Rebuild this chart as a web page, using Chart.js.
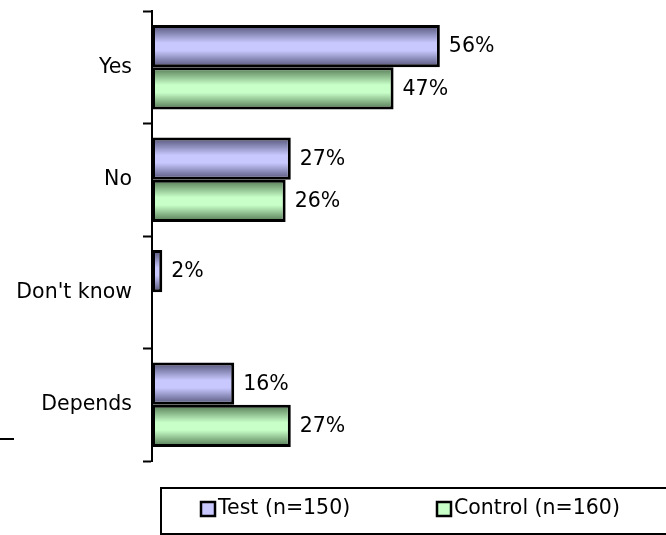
<!DOCTYPE html>
<html>
<head>
<meta charset="utf-8">
<script src="https://cdn.jsdelivr.net/npm/chart.js@4.4.0/dist/chart.umd.min.js"></script>
<style>
  html, body { margin: 0; padding: 0; background: #fff; }
  #wrap { width: 666px; height: 535px; position: relative; }
</style>
</head>
<body>
<div id="wrap"><canvas id="answersChart"></canvas></div>
<script>
// Дані
const categories = ['Yes', 'No', "Don't know", 'Depends'];
const seriesNames = ['Test (n=150)', 'Control (n=160)'];
const testValues = [56, 27, 2, 16];
const controlValues = [47, 26, null, 27];

const FONT = '"DejaVu Sans", Verdana, sans-serif';
const FONT_SIZE = 20.5;
const palette = [
    { dark: '#505075', light: '#c8c8ff' },
    { dark: '#507550', light: '#c8ffc8' }
];

// вертикальний градієнт для кожного бару (темні краї, світла середина)
function barGradient(ctx) {
    const chart = ctx.chart;
    const y = chart.scales && chart.scales.y;
    const col = palette[ctx.datasetIndex];
    if (!chart.chartArea || !y) return col.light;
    const band = (y.bottom - y.top) / categories.length;
    const h = band * 0.75 / 2;
    const yc = y.getPixelForValue(ctx.dataIndex);
    const top = ctx.datasetIndex === 0 ? yc - h : yc;
    const g = chart.ctx.createLinearGradient(0, top, 0, top + h);
    g.addColorStop(0, col.dark);
    g.addColorStop(0.42, col.light);
    g.addColorStop(0.6, col.light);
    g.addColorStop(1, col.dark);
    return g;
}

// підписи значень і легенда в рамці
const extras = {
    id: 'extras',
    afterDatasetsDraw(chart) {
        const c = chart.ctx;
        c.save();
        c.font = FONT_SIZE + 'px ' + FONT;
        c.fillStyle = '#000';
        c.textBaseline = 'middle';
        c.textAlign = 'left';
        chart.data.datasets.forEach((ds, di) => {
            chart.getDatasetMeta(di).data.forEach((bar, i) => {
                if (ds.data[i] == null) return;
                c.fillText(ds.data[i] + '%', bar.x + 9, bar.y + 1);
            });
        });
        c.restore();
    },
    afterDraw(chart) {
        const c = chart.ctx;
        c.save();
        // рамка легенди
        c.strokeStyle = '#000';
        c.lineWidth = 2;
        c.strokeRect(161, 488, 520, 46);
        // коротка риска зліва
        c.beginPath();
        c.moveTo(0, 439);
        c.lineTo(14, 439);
        c.stroke();

        const items = [200, 436];
        c.font = FONT_SIZE + 'px ' + FONT;
        c.textBaseline = 'middle';
        c.textAlign = 'left';
        chart.data.datasets.forEach((ds, di) => {
            const x = items[di], y = 501;
            c.fillStyle = palette[di].light;
            c.fillRect(x, y, 16, 16);
            c.lineWidth = 2.5;
            c.strokeRect(x + 1, y + 1, 14, 14);
            c.fillStyle = '#000';
            c.fillText(ds.label, x + 18, y + 8);
        });
        c.restore();
    }
};

new Chart(document.getElementById('answersChart'), {
    type: 'bar',
    data: {
        labels: categories,
        datasets: [
            { label: seriesNames[0], data: testValues, backgroundColor: barGradient },
            { label: seriesNames[1], data: controlValues, backgroundColor: barGradient }
        ]
    },
    options: {
        indexAxis: 'y',
        responsive: true,
        maintainAspectRatio: false,
        animation: false,
        layout: { padding: { top: 11, bottom: 74, right: 0, left: 0 } },
        datasets: {
            bar: {
                borderColor: '#000',
                borderWidth: 3,
                borderSkipped: false,
                categoryPercentage: 0.75,
                barPercentage: 1
            }
        },
        plugins: {
            legend: { display: false },
            tooltip: { enabled: false }
        },
        scales: {
            x: { display: false, min: 0, max: 100 },
            y: {
                afterFit(scale) {
                    scale.width = 152;
                    scale.paddingTop = 0;
                    scale.paddingBottom = 0;
                },
                border: { display: true, color: '#000', width: 2 },
                grid: {
                    offset: true,
                    drawOnChartArea: false,
                    drawTicks: true,
                    tickLength: 9,
                    tickWidth: 2,
                    color: '#000'
                },
                ticks: {
                    color: '#000',
                    padding: 11,
                    font: { family: FONT, size: FONT_SIZE }
                }
            }
        }
    },
    plugins: [extras]
});
</script>
</body>
</html>
